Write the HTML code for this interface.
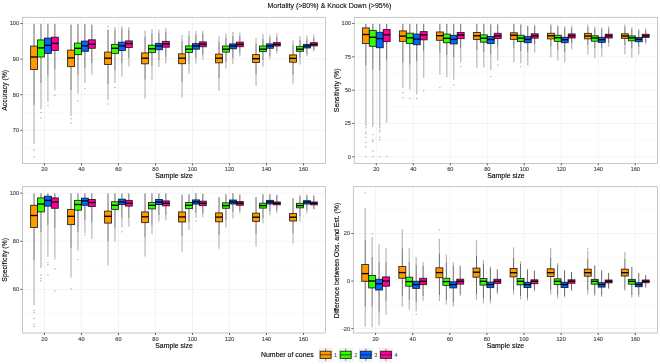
<!DOCTYPE html>
<html><head><meta charset="utf-8"><style>
*{margin:0;padding:0}
html,body{width:660px;height:364px;background:#fff;overflow:hidden}
svg{display:block;filter:blur(0.45px)}
text{font-family:"Liberation Sans",sans-serif;}
.gM{stroke:#ebebeb;stroke-width:0.6}
.gm{stroke:#f5f5f5;stroke-width:0.5}
.pb{fill:none;stroke:#b0b0b0;stroke-width:0.7}
.tk{stroke:#333;stroke-width:0.8}
.tl{font-size:5.6px;fill:#4d4d4d;stroke:#4d4d4d;stroke-width:0.15px}
.at{font-size:6.9px;fill:#000;stroke:#000;stroke-width:0.12px}
.tt{font-size:7.0px;fill:#000;stroke:#000;stroke-width:0.08px}
.lt{font-size:6.95px;fill:#000;stroke:#000;stroke-width:0.12px}
.ll{font-size:5.4px;fill:#404040;stroke:#404040;stroke-width:0.05px}
.ob{stroke:#b8b8b8;stroke-width:1.2}
.od{fill:#a8a8a8}
.wk{stroke:#686868;stroke-width:1.0}
.bx{stroke:#000;stroke-opacity:0.78;stroke-width:0.95}
.md{stroke:#000;stroke-width:1.35}
.kb{fill:#f7f7f7;stroke:#e0e0e0;stroke-width:0.5}
.kw{stroke:#333;stroke-width:0.6}
</style></head>
<body><svg width="660" height="364" viewBox="0 0 660 364">
<rect width="660" height="364" fill="#fff"/>
<line x1="22.4" x2="325.6" y1="41.3" y2="41.3" class="gm"/>
<line x1="22.4" x2="325.6" y1="76.9" y2="76.9" class="gm"/>
<line x1="22.4" x2="325.6" y1="112.5" y2="112.5" class="gm"/>
<line x1="22.4" x2="325.6" y1="148.1" y2="148.1" class="gm"/>
<line x1="22.4" x2="325.6" y1="23.5" y2="23.5" class="gM"/>
<line x1="22.4" x2="325.6" y1="59.1" y2="59.1" class="gM"/>
<line x1="22.4" x2="325.6" y1="94.7" y2="94.7" class="gM"/>
<line x1="22.4" x2="325.6" y1="130.3" y2="130.3" class="gM"/>
<line x1="44.45" x2="44.45" y1="17.3" y2="163.4" class="gM"/>
<line x1="81.45" x2="81.45" y1="17.3" y2="163.4" class="gM"/>
<line x1="118.45" x2="118.45" y1="17.3" y2="163.4" class="gM"/>
<line x1="155.45" x2="155.45" y1="17.3" y2="163.4" class="gM"/>
<line x1="192.45" x2="192.45" y1="17.3" y2="163.4" class="gM"/>
<line x1="229.45" x2="229.45" y1="17.3" y2="163.4" class="gM"/>
<line x1="266.45" x2="266.45" y1="17.3" y2="163.4" class="gM"/>
<line x1="303.45" x2="303.45" y1="17.3" y2="163.4" class="gM"/>
<line x1="34.04" x2="34.04" y1="105" y2="143.7" class="ob"/>
<circle cx="34.04" cy="150" r="0.7" class="od"/>
<circle cx="34.04" cy="156.8" r="0.7" class="od"/>
<line x1="34.04" x2="34.04" y1="23.8" y2="46.1" class="wk"/>
<line x1="34.04" x2="34.04" y1="69.5" y2="105" class="wk"/>
<line x1="40.98" x2="40.98" y1="83" y2="109" class="ob"/>
<circle cx="40.98" cy="112.5" r="0.7" class="od"/>
<circle cx="40.98" cy="117.9" r="0.7" class="od"/>
<line x1="40.98" x2="40.98" y1="23.8" y2="39.9" class="wk"/>
<line x1="40.98" x2="40.98" y1="57" y2="83" class="wk"/>
<line x1="47.92" x2="47.92" y1="75.5" y2="102" class="ob"/>
<circle cx="47.92" cy="105.4" r="0.7" class="od"/>
<line x1="47.92" x2="47.92" y1="23.8" y2="38.1" class="wk"/>
<line x1="47.92" x2="47.92" y1="53.4" y2="75.5" class="wk"/>
<line x1="54.86" x2="54.86" y1="69" y2="90.3" class="ob"/>
<circle cx="54.86" cy="95.2" r="0.7" class="od"/>
<line x1="54.86" x2="54.86" y1="23.8" y2="37.2" class="wk"/>
<line x1="54.86" x2="54.86" y1="50.4" y2="69" class="wk"/>
<line x1="71.04" x2="71.04" y1="90" y2="116" class="ob"/>
<circle cx="71.04" cy="118.8" r="0.7" class="od"/>
<circle cx="71.04" cy="123.2" r="0.7" class="od"/>
<line x1="71.04" x2="71.04" y1="24.6" y2="50.1" class="wk"/>
<line x1="71.04" x2="71.04" y1="66.6" y2="90" class="wk"/>
<line x1="77.98" x2="77.98" y1="75" y2="93.6" class="ob"/>
<circle cx="77.98" cy="101" r="0.7" class="od"/>
<line x1="77.98" x2="77.98" y1="24.1" y2="43.1" class="wk"/>
<line x1="77.98" x2="77.98" y1="54.6" y2="75" class="wk"/>
<line x1="84.92" x2="84.92" y1="68" y2="83" class="ob"/>
<circle cx="84.92" cy="88.6" r="0.7" class="od"/>
<line x1="84.92" x2="84.92" y1="24.1" y2="41.1" class="wk"/>
<line x1="84.92" x2="84.92" y1="51.3" y2="68" class="wk"/>
<line x1="91.86" x2="91.86" y1="63" y2="74.7" class="ob"/>
<line x1="91.86" x2="91.86" y1="24.7" y2="39.8" class="wk"/>
<line x1="91.86" x2="91.86" y1="48.3" y2="63" class="wk"/>
<line x1="108.04" x2="108.04" y1="84.5" y2="100" class="ob"/>
<circle cx="108.04" cy="103.9" r="0.7" class="od"/>
<circle cx="108.04" cy="26.5" r="0.7" class="od"/>
<line x1="108.04" x2="108.04" y1="29.5" y2="52.1" class="wk"/>
<line x1="108.04" x2="108.04" y1="64.5" y2="84.5" class="wk"/>
<line x1="114.98" x2="114.98" y1="27.1" y2="30" class="ob"/>
<line x1="114.98" x2="114.98" y1="70" y2="83" class="ob"/>
<circle cx="114.98" cy="87.5" r="0.7" class="od"/>
<line x1="114.98" x2="114.98" y1="30" y2="44.4" class="wk"/>
<line x1="114.98" x2="114.98" y1="53.4" y2="70" class="wk"/>
<line x1="121.92" x2="121.92" y1="25.9" y2="29" class="ob"/>
<line x1="121.92" x2="121.92" y1="63" y2="76.4" class="ob"/>
<line x1="121.92" x2="121.92" y1="29" y2="42.2" class="wk"/>
<line x1="121.92" x2="121.92" y1="50.5" y2="63" class="wk"/>
<line x1="128.86" x2="128.86" y1="27.1" y2="30" class="ob"/>
<line x1="128.86" x2="128.86" y1="58" y2="66.5" class="ob"/>
<line x1="128.86" x2="128.86" y1="30" y2="40.9" class="wk"/>
<line x1="128.86" x2="128.86" y1="47.5" y2="58" class="wk"/>
<line x1="145.04" x2="145.04" y1="30.6" y2="36.7" class="ob"/>
<line x1="145.04" x2="145.04" y1="79.6" y2="98.5" class="ob"/>
<line x1="145.04" x2="145.04" y1="36.7" y2="52.9" class="wk"/>
<line x1="145.04" x2="145.04" y1="63.8" y2="79.6" class="wk"/>
<line x1="151.98" x2="151.98" y1="29.1" y2="33.6" class="ob"/>
<line x1="151.98" x2="151.98" y1="66" y2="80.5" class="ob"/>
<line x1="151.98" x2="151.98" y1="33.6" y2="45.2" class="wk"/>
<line x1="151.98" x2="151.98" y1="52.6" y2="66" class="wk"/>
<line x1="158.92" x2="158.92" y1="29.4" y2="33" class="ob"/>
<line x1="158.92" x2="158.92" y1="60" y2="67" class="ob"/>
<line x1="158.92" x2="158.92" y1="33" y2="43.4" class="wk"/>
<line x1="158.92" x2="158.92" y1="49.7" y2="60" class="wk"/>
<line x1="165.86" x2="165.86" y1="28.3" y2="32" class="ob"/>
<line x1="165.86" x2="165.86" y1="57" y2="63.5" class="ob"/>
<line x1="165.86" x2="165.86" y1="32" y2="41.4" class="wk"/>
<line x1="165.86" x2="165.86" y1="47.2" y2="57" class="wk"/>
<line x1="182.04" x2="182.04" y1="35" y2="41" class="ob"/>
<line x1="182.04" x2="182.04" y1="82" y2="97.6" class="ob"/>
<line x1="182.04" x2="182.04" y1="41" y2="53.8" class="wk"/>
<line x1="182.04" x2="182.04" y1="63.7" y2="82" class="wk"/>
<line x1="188.98" x2="188.98" y1="31" y2="36" class="ob"/>
<line x1="188.98" x2="188.98" y1="64" y2="73.7" class="ob"/>
<line x1="188.98" x2="188.98" y1="36" y2="45.9" class="wk"/>
<line x1="188.98" x2="188.98" y1="52.5" y2="64" class="wk"/>
<line x1="195.92" x2="195.92" y1="31" y2="35" class="ob"/>
<line x1="195.92" x2="195.92" y1="58" y2="63.5" class="ob"/>
<line x1="195.92" x2="195.92" y1="35" y2="43.6" class="wk"/>
<line x1="195.92" x2="195.92" y1="49.2" y2="58" class="wk"/>
<line x1="202.86" x2="202.86" y1="30.7" y2="34" class="ob"/>
<line x1="202.86" x2="202.86" y1="55" y2="59.5" class="ob"/>
<line x1="202.86" x2="202.86" y1="34" y2="41.9" class="wk"/>
<line x1="202.86" x2="202.86" y1="46.7" y2="55" class="wk"/>
<line x1="219.04" x2="219.04" y1="36.2" y2="42" class="ob"/>
<line x1="219.04" x2="219.04" y1="78" y2="91.1" class="ob"/>
<line x1="219.04" x2="219.04" y1="42" y2="54.1" class="wk"/>
<line x1="219.04" x2="219.04" y1="62.8" y2="78" class="wk"/>
<line x1="225.98" x2="225.98" y1="33.2" y2="38" class="ob"/>
<line x1="225.98" x2="225.98" y1="62" y2="68.4" class="ob"/>
<line x1="225.98" x2="225.98" y1="38" y2="46" class="wk"/>
<line x1="225.98" x2="225.98" y1="52.1" y2="62" class="wk"/>
<line x1="232.92" x2="232.92" y1="31.9" y2="36" class="ob"/>
<line x1="232.92" x2="232.92" y1="58" y2="64.3" class="ob"/>
<line x1="232.92" x2="232.92" y1="36" y2="43.9" class="wk"/>
<line x1="232.92" x2="232.92" y1="48.8" y2="58" class="wk"/>
<line x1="239.86" x2="239.86" y1="32.4" y2="36" class="ob"/>
<line x1="239.86" x2="239.86" y1="53" y2="56.6" class="ob"/>
<line x1="239.86" x2="239.86" y1="36" y2="42.2" class="wk"/>
<line x1="239.86" x2="239.86" y1="46.7" y2="53" class="wk"/>
<line x1="256.04" x2="256.04" y1="38" y2="43.5" class="ob"/>
<line x1="256.04" x2="256.04" y1="74.7" y2="85.9" class="ob"/>
<line x1="256.04" x2="256.04" y1="43.5" y2="54.6" class="wk"/>
<line x1="256.04" x2="256.04" y1="62.5" y2="74.7" class="wk"/>
<line x1="262.98" x2="262.98" y1="34" y2="39" class="ob"/>
<line x1="262.98" x2="262.98" y1="60" y2="66.7" class="ob"/>
<line x1="262.98" x2="262.98" y1="39" y2="46" class="wk"/>
<line x1="262.98" x2="262.98" y1="51.6" y2="60" class="wk"/>
<line x1="269.92" x2="269.92" y1="34.8" y2="38" class="ob"/>
<line x1="269.92" x2="269.92" y1="56" y2="59.2" class="ob"/>
<line x1="269.92" x2="269.92" y1="38" y2="43.9" class="wk"/>
<line x1="269.92" x2="269.92" y1="48.3" y2="56" class="wk"/>
<line x1="276.86" x2="276.86" y1="33.2" y2="37" class="ob"/>
<line x1="276.86" x2="276.86" y1="51" y2="53.6" class="ob"/>
<line x1="276.86" x2="276.86" y1="37" y2="42.6" class="wk"/>
<line x1="276.86" x2="276.86" y1="46" y2="51" class="wk"/>
<line x1="293.04" x2="293.04" y1="40.5" y2="45" class="ob"/>
<line x1="293.04" x2="293.04" y1="74.7" y2="83.8" class="ob"/>
<line x1="293.04" x2="293.04" y1="45" y2="54.9" class="wk"/>
<line x1="293.04" x2="293.04" y1="62.2" y2="74.7" class="wk"/>
<line x1="299.98" x2="299.98" y1="36.1" y2="40" class="ob"/>
<line x1="299.98" x2="299.98" y1="58" y2="64.5" class="ob"/>
<line x1="299.98" x2="299.98" y1="40" y2="46.4" class="wk"/>
<line x1="299.98" x2="299.98" y1="51.3" y2="58" class="wk"/>
<line x1="306.92" x2="306.92" y1="35.6" y2="39" class="ob"/>
<line x1="306.92" x2="306.92" y1="54" y2="56.4" class="ob"/>
<line x1="306.92" x2="306.92" y1="39" y2="44.4" class="wk"/>
<line x1="306.92" x2="306.92" y1="48" y2="54" class="wk"/>
<line x1="313.86" x2="313.86" y1="34.5" y2="38" class="ob"/>
<line x1="313.86" x2="313.86" y1="50" y2="51.6" class="ob"/>
<line x1="313.86" x2="313.86" y1="38" y2="42.7" class="wk"/>
<line x1="313.86" x2="313.86" y1="45.9" y2="50" class="wk"/>
<rect x="30.57" y="46.1" width="6.94" height="23.4" fill="#FF9A00" class="bx"/>
<line x1="30.57" x2="37.51" y1="57" y2="57" class="md"/>
<rect x="37.51" y="39.9" width="6.94" height="17.1" fill="#33FF00" class="bx"/>
<line x1="37.51" x2="44.45" y1="47.9" y2="47.9" class="md"/>
<rect x="44.45" y="38.1" width="6.94" height="15.3" fill="#0066FF" class="bx"/>
<line x1="44.45" x2="51.39" y1="45.3" y2="45.3" class="md"/>
<rect x="51.39" y="37.2" width="6.94" height="13.2" fill="#FF0099" class="bx"/>
<line x1="51.39" x2="58.33" y1="43.4" y2="43.4" class="md"/>
<rect x="67.57" y="50.1" width="6.94" height="16.5" fill="#FF9A00" class="bx"/>
<line x1="67.57" x2="74.51" y1="57.9" y2="57.9" class="md"/>
<rect x="74.51" y="43.1" width="6.94" height="11.5" fill="#33FF00" class="bx"/>
<line x1="74.51" x2="81.45" y1="48.3" y2="48.3" class="md"/>
<rect x="81.45" y="41.1" width="6.94" height="10.2" fill="#0066FF" class="bx"/>
<line x1="81.45" x2="88.39" y1="45.9" y2="45.9" class="md"/>
<rect x="88.39" y="39.8" width="6.94" height="8.5" fill="#FF0099" class="bx"/>
<line x1="88.39" x2="95.33" y1="44.2" y2="44.2" class="md"/>
<rect x="104.57" y="52.1" width="6.94" height="12.4" fill="#FF9A00" class="bx"/>
<line x1="104.57" x2="111.51" y1="58.2" y2="58.2" class="md"/>
<rect x="111.51" y="44.4" width="6.94" height="9" fill="#33FF00" class="bx"/>
<line x1="111.51" x2="118.45" y1="48.3" y2="48.3" class="md"/>
<rect x="118.45" y="42.2" width="6.94" height="8.3" fill="#0066FF" class="bx"/>
<line x1="118.45" x2="125.39" y1="45.9" y2="45.9" class="md"/>
<rect x="125.39" y="40.9" width="6.94" height="6.6" fill="#FF0099" class="bx"/>
<line x1="125.39" x2="132.33" y1="43.6" y2="43.6" class="md"/>
<rect x="141.57" y="52.9" width="6.94" height="10.9" fill="#FF9A00" class="bx"/>
<line x1="141.57" x2="148.51" y1="58.2" y2="58.2" class="md"/>
<rect x="148.51" y="45.2" width="6.94" height="7.4" fill="#33FF00" class="bx"/>
<line x1="148.51" x2="155.45" y1="48.8" y2="48.8" class="md"/>
<rect x="155.45" y="43.4" width="6.94" height="6.3" fill="#0066FF" class="bx"/>
<line x1="155.45" x2="162.39" y1="45.9" y2="45.9" class="md"/>
<rect x="162.39" y="41.4" width="6.94" height="5.8" fill="#FF0099" class="bx"/>
<line x1="162.39" x2="169.33" y1="43.9" y2="43.9" class="md"/>
<rect x="178.57" y="53.8" width="6.94" height="9.9" fill="#FF9A00" class="bx"/>
<line x1="178.57" x2="185.51" y1="58.2" y2="58.2" class="md"/>
<rect x="185.51" y="45.9" width="6.94" height="6.6" fill="#33FF00" class="bx"/>
<line x1="185.51" x2="192.45" y1="49.2" y2="49.2" class="md"/>
<rect x="192.45" y="43.6" width="6.94" height="5.6" fill="#0066FF" class="bx"/>
<line x1="192.45" x2="199.39" y1="45.9" y2="45.9" class="md"/>
<rect x="199.39" y="41.9" width="6.94" height="4.8" fill="#FF0099" class="bx"/>
<line x1="199.39" x2="206.33" y1="44.2" y2="44.2" class="md"/>
<rect x="215.57" y="54.1" width="6.94" height="8.7" fill="#FF9A00" class="bx"/>
<line x1="215.57" x2="222.51" y1="58.2" y2="58.2" class="md"/>
<rect x="222.51" y="46" width="6.94" height="6.1" fill="#33FF00" class="bx"/>
<line x1="222.51" x2="229.45" y1="49.2" y2="49.2" class="md"/>
<rect x="229.45" y="43.9" width="6.94" height="4.9" fill="#0066FF" class="bx"/>
<line x1="229.45" x2="236.39" y1="46" y2="46" class="md"/>
<rect x="236.39" y="42.2" width="6.94" height="4.5" fill="#FF0099" class="bx"/>
<line x1="236.39" x2="243.33" y1="44.4" y2="44.4" class="md"/>
<rect x="252.57" y="54.6" width="6.94" height="7.9" fill="#FF9A00" class="bx"/>
<line x1="252.57" x2="259.51" y1="58.7" y2="58.7" class="md"/>
<rect x="259.51" y="46" width="6.94" height="5.6" fill="#33FF00" class="bx"/>
<line x1="259.51" x2="266.45" y1="49.2" y2="49.2" class="md"/>
<rect x="266.45" y="43.9" width="6.94" height="4.4" fill="#0066FF" class="bx"/>
<line x1="266.45" x2="273.39" y1="46" y2="46" class="md"/>
<rect x="273.39" y="42.6" width="6.94" height="3.4" fill="#FF0099" class="bx"/>
<line x1="273.39" x2="280.33" y1="44.4" y2="44.4" class="md"/>
<rect x="289.57" y="54.9" width="6.94" height="7.3" fill="#FF9A00" class="bx"/>
<line x1="289.57" x2="296.51" y1="58.4" y2="58.4" class="md"/>
<rect x="296.51" y="46.4" width="6.94" height="4.9" fill="#33FF00" class="bx"/>
<line x1="296.51" x2="303.45" y1="49.2" y2="49.2" class="md"/>
<rect x="303.45" y="44.4" width="6.94" height="3.6" fill="#0066FF" class="bx"/>
<line x1="303.45" x2="310.39" y1="46" y2="46" class="md"/>
<rect x="310.39" y="42.7" width="6.94" height="3.2" fill="#FF0099" class="bx"/>
<line x1="310.39" x2="317.33" y1="44.4" y2="44.4" class="md"/>
<rect x="22.4" y="17.3" width="303.2" height="146.1" class="pb"/>
<line x1="20.4" x2="22.4" y1="23.5" y2="23.5" class="tk"/>
<text x="19.1" y="25.45" class="tl" text-anchor="end">100</text>
<line x1="20.4" x2="22.4" y1="59.1" y2="59.1" class="tk"/>
<text x="19.1" y="61.05" class="tl" text-anchor="end">90</text>
<line x1="20.4" x2="22.4" y1="94.7" y2="94.7" class="tk"/>
<text x="19.1" y="96.65" class="tl" text-anchor="end">80</text>
<line x1="20.4" x2="22.4" y1="130.3" y2="130.3" class="tk"/>
<text x="19.1" y="132.25" class="tl" text-anchor="end">70</text>
<line x1="44.45" x2="44.45" y1="163.4" y2="165.4" class="tk"/>
<text x="44.45" y="171.2" class="tl" text-anchor="middle">20</text>
<line x1="81.45" x2="81.45" y1="163.4" y2="165.4" class="tk"/>
<text x="81.45" y="171.2" class="tl" text-anchor="middle">40</text>
<line x1="118.45" x2="118.45" y1="163.4" y2="165.4" class="tk"/>
<text x="118.45" y="171.2" class="tl" text-anchor="middle">60</text>
<line x1="155.45" x2="155.45" y1="163.4" y2="165.4" class="tk"/>
<text x="155.45" y="171.2" class="tl" text-anchor="middle">80</text>
<line x1="192.45" x2="192.45" y1="163.4" y2="165.4" class="tk"/>
<text x="192.45" y="171.2" class="tl" text-anchor="middle">100</text>
<line x1="229.45" x2="229.45" y1="163.4" y2="165.4" class="tk"/>
<text x="229.45" y="171.2" class="tl" text-anchor="middle">120</text>
<line x1="266.45" x2="266.45" y1="163.4" y2="165.4" class="tk"/>
<text x="266.45" y="171.2" class="tl" text-anchor="middle">140</text>
<line x1="303.45" x2="303.45" y1="163.4" y2="165.4" class="tk"/>
<text x="303.45" y="171.2" class="tl" text-anchor="middle">160</text>
<text x="174" y="178" class="at" text-anchor="middle">Sample size</text>
<text transform="translate(6.7 90.35) rotate(-90)" class="at" text-anchor="middle">Accuracy (%)</text>
<line x1="354.2" x2="657.6" y1="40.2" y2="40.2" class="gm"/>
<line x1="354.2" x2="657.6" y1="73.5" y2="73.5" class="gm"/>
<line x1="354.2" x2="657.6" y1="106.8" y2="106.8" class="gm"/>
<line x1="354.2" x2="657.6" y1="140.1" y2="140.1" class="gm"/>
<line x1="354.2" x2="657.6" y1="23.5" y2="23.5" class="gM"/>
<line x1="354.2" x2="657.6" y1="56.85" y2="56.85" class="gM"/>
<line x1="354.2" x2="657.6" y1="90.2" y2="90.2" class="gM"/>
<line x1="354.2" x2="657.6" y1="123.45" y2="123.45" class="gM"/>
<line x1="354.2" x2="657.6" y1="156.75" y2="156.75" class="gM"/>
<line x1="376.3" x2="376.3" y1="17.3" y2="163.4" class="gM"/>
<line x1="413.3" x2="413.3" y1="17.3" y2="163.4" class="gM"/>
<line x1="450.3" x2="450.3" y1="17.3" y2="163.4" class="gM"/>
<line x1="487.3" x2="487.3" y1="17.3" y2="163.4" class="gM"/>
<line x1="524.3" x2="524.3" y1="17.3" y2="163.4" class="gM"/>
<line x1="561.3" x2="561.3" y1="17.3" y2="163.4" class="gM"/>
<line x1="598.3" x2="598.3" y1="17.3" y2="163.4" class="gM"/>
<line x1="635.3" x2="635.3" y1="17.3" y2="163.4" class="gM"/>
<line x1="365.89" x2="365.89" y1="65.5" y2="126" class="ob"/>
<circle cx="365.89" cy="127.7" r="0.7" class="od"/>
<circle cx="365.89" cy="132" r="0.7" class="od"/>
<circle cx="365.89" cy="133.7" r="0.7" class="od"/>
<circle cx="365.89" cy="137.2" r="0.7" class="od"/>
<circle cx="365.89" cy="142.4" r="0.7" class="od"/>
<circle cx="365.89" cy="146.7" r="0.7" class="od"/>
<circle cx="365.89" cy="156.6" r="0.7" class="od"/>
<line x1="365.89" x2="365.89" y1="23.8" y2="27.9" class="wk"/>
<line x1="365.89" x2="365.89" y1="43.5" y2="65.5" class="wk"/>
<line x1="372.83" x2="372.83" y1="69.7" y2="126.8" class="ob"/>
<circle cx="372.83" cy="134.6" r="0.7" class="od"/>
<circle cx="372.83" cy="139.8" r="0.7" class="od"/>
<circle cx="372.83" cy="141.5" r="0.7" class="od"/>
<circle cx="372.83" cy="151" r="0.7" class="od"/>
<circle cx="372.83" cy="156.6" r="0.7" class="od"/>
<line x1="372.83" x2="372.83" y1="23.8" y2="30.4" class="wk"/>
<line x1="372.83" x2="372.83" y1="46.3" y2="69.7" class="wk"/>
<line x1="379.77" x2="379.77" y1="70.5" y2="128.5" class="ob"/>
<circle cx="379.77" cy="130.3" r="0.7" class="od"/>
<circle cx="379.77" cy="132" r="0.7" class="od"/>
<circle cx="379.77" cy="137.2" r="0.7" class="od"/>
<circle cx="379.77" cy="139.8" r="0.7" class="od"/>
<circle cx="379.77" cy="156.6" r="0.7" class="od"/>
<line x1="379.77" x2="379.77" y1="23.8" y2="32.3" class="wk"/>
<line x1="379.77" x2="379.77" y1="47.7" y2="70.5" class="wk"/>
<line x1="386.71" x2="386.71" y1="59.8" y2="122.5" class="ob"/>
<circle cx="386.71" cy="156.6" r="0.7" class="od"/>
<line x1="386.71" x2="386.71" y1="23.8" y2="29.5" class="wk"/>
<line x1="386.71" x2="386.71" y1="41.6" y2="59.8" class="wk"/>
<line x1="402.89" x2="402.89" y1="63" y2="87.8" class="ob"/>
<circle cx="402.89" cy="92.7" r="0.7" class="od"/>
<circle cx="402.89" cy="97.8" r="0.7" class="od"/>
<line x1="402.89" x2="402.89" y1="23.8" y2="30.9" class="wk"/>
<line x1="402.89" x2="402.89" y1="41.4" y2="63" class="wk"/>
<line x1="409.83" x2="409.83" y1="64.7" y2="89.4" class="ob"/>
<circle cx="409.83" cy="98.5" r="0.7" class="od"/>
<line x1="409.83" x2="409.83" y1="23.8" y2="33.2" class="wk"/>
<line x1="409.83" x2="409.83" y1="43.5" y2="64.7" class="wk"/>
<line x1="416.77" x2="416.77" y1="61.4" y2="94.4" class="ob"/>
<circle cx="416.77" cy="98.5" r="0.7" class="od"/>
<line x1="416.77" x2="416.77" y1="23.8" y2="34.1" class="wk"/>
<line x1="416.77" x2="416.77" y1="44.7" y2="61.4" class="wk"/>
<line x1="423.71" x2="423.71" y1="51.5" y2="77.9" class="ob"/>
<circle cx="423.71" cy="91" r="0.7" class="od"/>
<line x1="423.71" x2="423.71" y1="23.8" y2="31.6" class="wk"/>
<line x1="423.71" x2="423.71" y1="39.8" y2="51.5" class="wk"/>
<line x1="439.89" x2="439.89" y1="52.6" y2="74.8" class="ob"/>
<circle cx="439.89" cy="87.7" r="0.7" class="od"/>
<line x1="439.89" x2="439.89" y1="23.8" y2="32" class="wk"/>
<line x1="439.89" x2="439.89" y1="40.3" y2="52.6" class="wk"/>
<line x1="446.83" x2="446.83" y1="55" y2="77.3" class="ob"/>
<line x1="446.83" x2="446.83" y1="23.8" y2="34.1" class="wk"/>
<line x1="446.83" x2="446.83" y1="42.7" y2="55" class="wk"/>
<line x1="453.77" x2="453.77" y1="57" y2="79.8" class="ob"/>
<circle cx="453.77" cy="84.7" r="0.7" class="od"/>
<line x1="453.77" x2="453.77" y1="23.8" y2="35.3" class="wk"/>
<line x1="453.77" x2="453.77" y1="43.9" y2="57" class="wk"/>
<line x1="460.71" x2="460.71" y1="48" y2="62.5" class="ob"/>
<circle cx="460.71" cy="66.6" r="0.7" class="od"/>
<line x1="460.71" x2="460.71" y1="23.8" y2="32.5" class="wk"/>
<line x1="460.71" x2="460.71" y1="38.6" y2="48" class="wk"/>
<line x1="476.89" x2="476.89" y1="50" y2="68.2" class="ob"/>
<line x1="476.89" x2="476.89" y1="23.8" y2="32.5" class="wk"/>
<line x1="476.89" x2="476.89" y1="39.4" y2="50" class="wk"/>
<line x1="483.83" x2="483.83" y1="52" y2="67.4" class="ob"/>
<line x1="483.83" x2="483.83" y1="23.8" y2="34.9" class="wk"/>
<line x1="483.83" x2="483.83" y1="42.2" y2="52" class="wk"/>
<line x1="490.77" x2="490.77" y1="23.8" y2="24.5" class="ob"/>
<line x1="490.77" x2="490.77" y1="54" y2="69.9" class="ob"/>
<circle cx="490.77" cy="76.5" r="0.7" class="od"/>
<line x1="490.77" x2="490.77" y1="24.5" y2="36.5" class="wk"/>
<line x1="490.77" x2="490.77" y1="43.5" y2="54" class="wk"/>
<line x1="497.71" x2="497.71" y1="23.8" y2="24.5" class="ob"/>
<line x1="497.71" x2="497.71" y1="46" y2="60.8" class="ob"/>
<circle cx="497.71" cy="65" r="0.7" class="od"/>
<line x1="497.71" x2="497.71" y1="24.5" y2="33.3" class="wk"/>
<line x1="497.71" x2="497.71" y1="38.5" y2="46" class="wk"/>
<line x1="513.89" x2="513.89" y1="48" y2="62.5" class="ob"/>
<line x1="513.89" x2="513.89" y1="23.8" y2="32.8" class="wk"/>
<line x1="513.89" x2="513.89" y1="39.4" y2="48" class="wk"/>
<line x1="520.83" x2="520.83" y1="23.8" y2="25" class="ob"/>
<line x1="520.83" x2="520.83" y1="51" y2="63.3" class="ob"/>
<circle cx="520.83" cy="66.6" r="0.7" class="od"/>
<line x1="520.83" x2="520.83" y1="25" y2="35.3" class="wk"/>
<line x1="520.83" x2="520.83" y1="41.6" y2="51" class="wk"/>
<line x1="527.77" x2="527.77" y1="25.4" y2="26" class="ob"/>
<line x1="527.77" x2="527.77" y1="52" y2="65.4" class="ob"/>
<line x1="527.77" x2="527.77" y1="26" y2="36.6" class="wk"/>
<line x1="527.77" x2="527.77" y1="42.7" y2="52" class="wk"/>
<line x1="534.71" x2="534.71" y1="24.6" y2="26" class="ob"/>
<line x1="534.71" x2="534.71" y1="44" y2="52.6" class="ob"/>
<line x1="534.71" x2="534.71" y1="26" y2="33.8" class="wk"/>
<line x1="534.71" x2="534.71" y1="38.2" y2="44" class="wk"/>
<line x1="550.89" x2="550.89" y1="24" y2="26" class="ob"/>
<line x1="550.89" x2="550.89" y1="46" y2="57.5" class="ob"/>
<line x1="550.89" x2="550.89" y1="26" y2="33.3" class="wk"/>
<line x1="550.89" x2="550.89" y1="38.9" y2="46" class="wk"/>
<line x1="557.83" x2="557.83" y1="25" y2="27" class="ob"/>
<line x1="557.83" x2="557.83" y1="50" y2="60.5" class="ob"/>
<line x1="557.83" x2="557.83" y1="27" y2="35.3" class="wk"/>
<line x1="557.83" x2="557.83" y1="41.4" y2="50" class="wk"/>
<line x1="564.77" x2="564.77" y1="26" y2="28" class="ob"/>
<line x1="564.77" x2="564.77" y1="52" y2="62.5" class="ob"/>
<line x1="564.77" x2="564.77" y1="28" y2="37.3" class="wk"/>
<line x1="564.77" x2="564.77" y1="42.7" y2="52" class="wk"/>
<line x1="571.71" x2="571.71" y1="25.5" y2="28" class="ob"/>
<line x1="571.71" x2="571.71" y1="43" y2="49.6" class="ob"/>
<line x1="571.71" x2="571.71" y1="28" y2="33.9" class="wk"/>
<line x1="571.71" x2="571.71" y1="38" y2="43" class="wk"/>
<line x1="587.89" x2="587.89" y1="24.6" y2="27" class="ob"/>
<line x1="587.89" x2="587.89" y1="45" y2="54.6" class="ob"/>
<line x1="587.89" x2="587.89" y1="27" y2="33.4" class="wk"/>
<line x1="587.89" x2="587.89" y1="38.8" y2="45" class="wk"/>
<line x1="594.83" x2="594.83" y1="26.6" y2="28.5" class="ob"/>
<line x1="594.83" x2="594.83" y1="48" y2="57.9" class="ob"/>
<line x1="594.83" x2="594.83" y1="28.5" y2="35.8" class="wk"/>
<line x1="594.83" x2="594.83" y1="41.2" y2="48" class="wk"/>
<line x1="601.77" x2="601.77" y1="27" y2="29" class="ob"/>
<line x1="601.77" x2="601.77" y1="48" y2="56.7" class="ob"/>
<line x1="601.77" x2="601.77" y1="29" y2="37.3" class="wk"/>
<line x1="601.77" x2="601.77" y1="42.4" y2="48" class="wk"/>
<line x1="608.71" x2="608.71" y1="26.2" y2="28.5" class="ob"/>
<line x1="608.71" x2="608.71" y1="43" y2="46.8" class="ob"/>
<line x1="608.71" x2="608.71" y1="28.5" y2="34.2" class="wk"/>
<line x1="608.71" x2="608.71" y1="38" y2="43" class="wk"/>
<line x1="624.89" x2="624.89" y1="24.6" y2="27" class="ob"/>
<line x1="624.89" x2="624.89" y1="45" y2="54.6" class="ob"/>
<line x1="624.89" x2="624.89" y1="27" y2="33.8" class="wk"/>
<line x1="624.89" x2="624.89" y1="38.4" y2="45" class="wk"/>
<line x1="631.83" x2="631.83" y1="27" y2="29" class="ob"/>
<line x1="631.83" x2="631.83" y1="48" y2="57.5" class="ob"/>
<line x1="631.83" x2="631.83" y1="29" y2="35.9" class="wk"/>
<line x1="631.83" x2="631.83" y1="40.8" y2="48" class="wk"/>
<line x1="638.77" x2="638.77" y1="28.7" y2="30.5" class="ob"/>
<line x1="638.77" x2="638.77" y1="47" y2="54.6" class="ob"/>
<line x1="638.77" x2="638.77" y1="30.5" y2="37.5" class="wk"/>
<line x1="638.77" x2="638.77" y1="41.7" y2="47" class="wk"/>
<line x1="645.71" x2="645.71" y1="28.2" y2="30" class="ob"/>
<line x1="645.71" x2="645.71" y1="42" y2="44.4" class="ob"/>
<line x1="645.71" x2="645.71" y1="30" y2="34.3" class="wk"/>
<line x1="645.71" x2="645.71" y1="37.4" y2="42" class="wk"/>
<rect x="362.42" y="27.9" width="6.94" height="15.6" fill="#FF9A00" class="bx"/>
<line x1="362.42" x2="369.36" y1="34.5" y2="34.5" class="md"/>
<rect x="369.36" y="30.4" width="6.94" height="15.9" fill="#33FF00" class="bx"/>
<line x1="369.36" x2="376.3" y1="37.3" y2="37.3" class="md"/>
<rect x="376.3" y="32.3" width="6.94" height="15.4" fill="#0066FF" class="bx"/>
<line x1="376.3" x2="383.24" y1="38.6" y2="38.6" class="md"/>
<rect x="383.24" y="29.5" width="6.94" height="12.1" fill="#FF0099" class="bx"/>
<line x1="383.24" x2="390.18" y1="34.8" y2="34.8" class="md"/>
<rect x="399.42" y="30.9" width="6.94" height="10.5" fill="#FF9A00" class="bx"/>
<line x1="399.42" x2="406.36" y1="36.1" y2="36.1" class="md"/>
<rect x="406.36" y="33.2" width="6.94" height="10.3" fill="#33FF00" class="bx"/>
<line x1="406.36" x2="413.3" y1="37.8" y2="37.8" class="md"/>
<rect x="413.3" y="34.1" width="6.94" height="10.6" fill="#0066FF" class="bx"/>
<line x1="413.3" x2="420.24" y1="39.1" y2="39.1" class="md"/>
<rect x="420.24" y="31.6" width="6.94" height="8.2" fill="#FF0099" class="bx"/>
<line x1="420.24" x2="427.18" y1="34.9" y2="34.9" class="md"/>
<rect x="436.42" y="32" width="6.94" height="8.3" fill="#FF9A00" class="bx"/>
<line x1="436.42" x2="443.36" y1="35.7" y2="35.7" class="md"/>
<rect x="443.36" y="34.1" width="6.94" height="8.6" fill="#33FF00" class="bx"/>
<line x1="443.36" x2="450.3" y1="38.3" y2="38.3" class="md"/>
<rect x="450.3" y="35.3" width="6.94" height="8.6" fill="#0066FF" class="bx"/>
<line x1="450.3" x2="457.24" y1="39.4" y2="39.4" class="md"/>
<rect x="457.24" y="32.5" width="6.94" height="6.1" fill="#FF0099" class="bx"/>
<line x1="457.24" x2="464.18" y1="35" y2="35" class="md"/>
<rect x="473.42" y="32.5" width="6.94" height="6.9" fill="#FF9A00" class="bx"/>
<line x1="473.42" x2="480.36" y1="35.8" y2="35.8" class="md"/>
<rect x="480.36" y="34.9" width="6.94" height="7.3" fill="#33FF00" class="bx"/>
<line x1="480.36" x2="487.3" y1="38.2" y2="38.2" class="md"/>
<rect x="487.3" y="36.5" width="6.94" height="7" fill="#0066FF" class="bx"/>
<line x1="487.3" x2="494.24" y1="39.5" y2="39.5" class="md"/>
<rect x="494.24" y="33.3" width="6.94" height="5.2" fill="#FF0099" class="bx"/>
<line x1="494.24" x2="501.18" y1="35.9" y2="35.9" class="md"/>
<rect x="510.42" y="32.8" width="6.94" height="6.6" fill="#FF9A00" class="bx"/>
<line x1="510.42" x2="517.36" y1="35.3" y2="35.3" class="md"/>
<rect x="517.36" y="35.3" width="6.94" height="6.3" fill="#33FF00" class="bx"/>
<line x1="517.36" x2="524.3" y1="38.1" y2="38.1" class="md"/>
<rect x="524.3" y="36.6" width="6.94" height="6.1" fill="#0066FF" class="bx"/>
<line x1="524.3" x2="531.24" y1="39.4" y2="39.4" class="md"/>
<rect x="531.24" y="33.8" width="6.94" height="4.4" fill="#FF0099" class="bx"/>
<line x1="531.24" x2="538.18" y1="35.8" y2="35.8" class="md"/>
<rect x="547.42" y="33.3" width="6.94" height="5.6" fill="#FF9A00" class="bx"/>
<line x1="547.42" x2="554.36" y1="35.8" y2="35.8" class="md"/>
<rect x="554.36" y="35.3" width="6.94" height="6.1" fill="#33FF00" class="bx"/>
<line x1="554.36" x2="561.3" y1="37.7" y2="37.7" class="md"/>
<rect x="561.3" y="37.3" width="6.94" height="5.4" fill="#0066FF" class="bx"/>
<line x1="561.3" x2="568.24" y1="39.7" y2="39.7" class="md"/>
<rect x="568.24" y="33.9" width="6.94" height="4.1" fill="#FF0099" class="bx"/>
<line x1="568.24" x2="575.18" y1="35.8" y2="35.8" class="md"/>
<rect x="584.42" y="33.4" width="6.94" height="5.4" fill="#FF9A00" class="bx"/>
<line x1="584.42" x2="591.36" y1="36" y2="36" class="md"/>
<rect x="591.36" y="35.8" width="6.94" height="5.4" fill="#33FF00" class="bx"/>
<line x1="591.36" x2="598.3" y1="38" y2="38" class="md"/>
<rect x="598.3" y="37.3" width="6.94" height="5.1" fill="#0066FF" class="bx"/>
<line x1="598.3" x2="605.24" y1="39.7" y2="39.7" class="md"/>
<rect x="605.24" y="34.2" width="6.94" height="3.8" fill="#FF0099" class="bx"/>
<line x1="605.24" x2="612.18" y1="35.9" y2="35.9" class="md"/>
<rect x="621.42" y="33.8" width="6.94" height="4.6" fill="#FF9A00" class="bx"/>
<line x1="621.42" x2="628.36" y1="36" y2="36" class="md"/>
<rect x="628.36" y="35.9" width="6.94" height="4.9" fill="#33FF00" class="bx"/>
<line x1="628.36" x2="635.3" y1="37.9" y2="37.9" class="md"/>
<rect x="635.3" y="37.5" width="6.94" height="4.2" fill="#0066FF" class="bx"/>
<line x1="635.3" x2="642.24" y1="39.4" y2="39.4" class="md"/>
<rect x="642.24" y="34.3" width="6.94" height="3.1" fill="#FF0099" class="bx"/>
<line x1="642.24" x2="649.18" y1="36" y2="36" class="md"/>
<rect x="354.2" y="17.3" width="303.4" height="146.1" class="pb"/>
<line x1="352.2" x2="354.2" y1="23.5" y2="23.5" class="tk"/>
<text x="350.9" y="25.45" class="tl" text-anchor="end">100</text>
<line x1="352.2" x2="354.2" y1="56.85" y2="56.85" class="tk"/>
<text x="350.9" y="58.8" class="tl" text-anchor="end">75</text>
<line x1="352.2" x2="354.2" y1="90.2" y2="90.2" class="tk"/>
<text x="350.9" y="92.15" class="tl" text-anchor="end">50</text>
<line x1="352.2" x2="354.2" y1="123.45" y2="123.45" class="tk"/>
<text x="350.9" y="125.4" class="tl" text-anchor="end">25</text>
<line x1="352.2" x2="354.2" y1="156.75" y2="156.75" class="tk"/>
<text x="350.9" y="158.7" class="tl" text-anchor="end">0</text>
<line x1="376.3" x2="376.3" y1="163.4" y2="165.4" class="tk"/>
<text x="376.3" y="171.2" class="tl" text-anchor="middle">20</text>
<line x1="413.3" x2="413.3" y1="163.4" y2="165.4" class="tk"/>
<text x="413.3" y="171.2" class="tl" text-anchor="middle">40</text>
<line x1="450.3" x2="450.3" y1="163.4" y2="165.4" class="tk"/>
<text x="450.3" y="171.2" class="tl" text-anchor="middle">60</text>
<line x1="487.3" x2="487.3" y1="163.4" y2="165.4" class="tk"/>
<text x="487.3" y="171.2" class="tl" text-anchor="middle">80</text>
<line x1="524.3" x2="524.3" y1="163.4" y2="165.4" class="tk"/>
<text x="524.3" y="171.2" class="tl" text-anchor="middle">100</text>
<line x1="561.3" x2="561.3" y1="163.4" y2="165.4" class="tk"/>
<text x="561.3" y="171.2" class="tl" text-anchor="middle">120</text>
<line x1="598.3" x2="598.3" y1="163.4" y2="165.4" class="tk"/>
<text x="598.3" y="171.2" class="tl" text-anchor="middle">140</text>
<line x1="635.3" x2="635.3" y1="163.4" y2="165.4" class="tk"/>
<text x="635.3" y="171.2" class="tl" text-anchor="middle">160</text>
<text x="505.9" y="178" class="at" text-anchor="middle">Sample size</text>
<text transform="translate(338.55 90.35) rotate(-90)" class="at" text-anchor="middle">Sensitivity (%)</text>
<line x1="22.4" x2="325.6" y1="217.25" y2="217.25" class="gm"/>
<line x1="22.4" x2="325.6" y1="265.35" y2="265.35" class="gm"/>
<line x1="22.4" x2="325.6" y1="313.45" y2="313.45" class="gm"/>
<line x1="22.4" x2="325.6" y1="193.2" y2="193.2" class="gM"/>
<line x1="22.4" x2="325.6" y1="241.3" y2="241.3" class="gM"/>
<line x1="22.4" x2="325.6" y1="289.4" y2="289.4" class="gM"/>
<line x1="44.45" x2="44.45" y1="186.7" y2="333" class="gM"/>
<line x1="81.45" x2="81.45" y1="186.7" y2="333" class="gM"/>
<line x1="118.45" x2="118.45" y1="186.7" y2="333" class="gM"/>
<line x1="155.45" x2="155.45" y1="186.7" y2="333" class="gM"/>
<line x1="192.45" x2="192.45" y1="186.7" y2="333" class="gM"/>
<line x1="229.45" x2="229.45" y1="186.7" y2="333" class="gM"/>
<line x1="266.45" x2="266.45" y1="186.7" y2="333" class="gM"/>
<line x1="303.45" x2="303.45" y1="186.7" y2="333" class="gM"/>
<line x1="34.04" x2="34.04" y1="260.4" y2="305.5" class="ob"/>
<circle cx="34.04" cy="310.4" r="0.7" class="od"/>
<circle cx="34.04" cy="312.7" r="0.7" class="od"/>
<circle cx="34.04" cy="318.4" r="0.7" class="od"/>
<circle cx="34.04" cy="324.1" r="0.7" class="od"/>
<circle cx="34.04" cy="326.4" r="0.7" class="od"/>
<line x1="34.04" x2="34.04" y1="193.4" y2="205.3" class="wk"/>
<line x1="34.04" x2="34.04" y1="227.5" y2="260.4" class="wk"/>
<line x1="40.98" x2="40.98" y1="232" y2="268" class="ob"/>
<circle cx="40.98" cy="275" r="0.7" class="od"/>
<circle cx="40.98" cy="278.5" r="0.7" class="od"/>
<circle cx="40.98" cy="280.8" r="0.7" class="od"/>
<line x1="40.98" x2="40.98" y1="193.4" y2="197.9" class="wk"/>
<line x1="40.98" x2="40.98" y1="211.9" y2="232" class="wk"/>
<line x1="47.92" x2="47.92" y1="225" y2="256.8" class="ob"/>
<circle cx="47.92" cy="262.6" r="0.7" class="od"/>
<circle cx="47.92" cy="264.8" r="0.7" class="od"/>
<circle cx="47.92" cy="275" r="0.7" class="od"/>
<line x1="47.92" x2="47.92" y1="193.4" y2="196.2" class="wk"/>
<line x1="47.92" x2="47.92" y1="206.1" y2="225" class="wk"/>
<line x1="54.86" x2="54.86" y1="228" y2="259.6" class="ob"/>
<circle cx="54.86" cy="268.7" r="0.7" class="od"/>
<circle cx="54.86" cy="291" r="0.7" class="od"/>
<line x1="54.86" x2="54.86" y1="193.4" y2="197.9" class="wk"/>
<line x1="54.86" x2="54.86" y1="208.3" y2="228" class="wk"/>
<line x1="71.04" x2="71.04" y1="248" y2="277.7" class="ob"/>
<circle cx="71.04" cy="289" r="0.7" class="od"/>
<line x1="71.04" x2="71.04" y1="193.4" y2="209.4" class="wk"/>
<line x1="71.04" x2="71.04" y1="224.6" y2="248" class="wk"/>
<line x1="77.98" x2="77.98" y1="232" y2="250.5" class="ob"/>
<circle cx="77.98" cy="259.6" r="0.7" class="od"/>
<line x1="77.98" x2="77.98" y1="193.4" y2="200.4" class="wk"/>
<line x1="77.98" x2="77.98" y1="210.2" y2="232" class="wk"/>
<line x1="84.92" x2="84.92" y1="220" y2="233.2" class="ob"/>
<circle cx="84.92" cy="234.9" r="0.7" class="od"/>
<line x1="84.92" x2="84.92" y1="193.4" y2="198.2" class="wk"/>
<line x1="84.92" x2="84.92" y1="205.3" y2="220" class="wk"/>
<line x1="91.86" x2="91.86" y1="222" y2="239" class="ob"/>
<line x1="91.86" x2="91.86" y1="193.4" y2="199.5" class="wk"/>
<line x1="91.86" x2="91.86" y1="206.5" y2="222" class="wk"/>
<line x1="108.04" x2="108.04" y1="241.5" y2="265.4" class="ob"/>
<line x1="108.04" x2="108.04" y1="193.4" y2="211.1" class="wk"/>
<line x1="108.04" x2="108.04" y1="223.1" y2="241.5" class="wk"/>
<line x1="114.98" x2="114.98" y1="228" y2="241.5" class="ob"/>
<line x1="114.98" x2="114.98" y1="193.4" y2="201.7" class="wk"/>
<line x1="114.98" x2="114.98" y1="209.4" y2="228" class="wk"/>
<line x1="121.92" x2="121.92" y1="218" y2="227.5" class="ob"/>
<circle cx="121.92" cy="231.7" r="0.7" class="od"/>
<line x1="121.92" x2="121.92" y1="193.4" y2="199.2" class="wk"/>
<line x1="121.92" x2="121.92" y1="204.5" y2="218" class="wk"/>
<line x1="128.86" x2="128.86" y1="218" y2="226.7" class="ob"/>
<line x1="128.86" x2="128.86" y1="193.4" y2="200.4" class="wk"/>
<line x1="128.86" x2="128.86" y1="206.1" y2="218" class="wk"/>
<line x1="145.04" x2="145.04" y1="237.4" y2="256.4" class="ob"/>
<line x1="145.04" x2="145.04" y1="193.4" y2="211.9" class="wk"/>
<line x1="145.04" x2="145.04" y1="222.6" y2="237.4" class="wk"/>
<line x1="151.98" x2="151.98" y1="225" y2="234.1" class="ob"/>
<line x1="151.98" x2="151.98" y1="193.4" y2="202.5" class="wk"/>
<line x1="151.98" x2="151.98" y1="208.9" y2="225" class="wk"/>
<line x1="158.92" x2="158.92" y1="215" y2="221.8" class="ob"/>
<line x1="158.92" x2="158.92" y1="193.4" y2="199.5" class="wk"/>
<line x1="158.92" x2="158.92" y1="204.5" y2="215" class="wk"/>
<line x1="165.86" x2="165.86" y1="215" y2="220.6" class="ob"/>
<line x1="165.86" x2="165.86" y1="193.4" y2="200.9" class="wk"/>
<line x1="165.86" x2="165.86" y1="205.8" y2="215" class="wk"/>
<line x1="182.04" x2="182.04" y1="236" y2="251.8" class="ob"/>
<line x1="182.04" x2="182.04" y1="194.6" y2="211.9" class="wk"/>
<line x1="182.04" x2="182.04" y1="222" y2="236" class="wk"/>
<line x1="188.98" x2="188.98" y1="222" y2="230" class="ob"/>
<line x1="188.98" x2="188.98" y1="194.3" y2="202.5" class="wk"/>
<line x1="188.98" x2="188.98" y1="208.6" y2="222" class="wk"/>
<line x1="195.92" x2="195.92" y1="213" y2="217.7" class="ob"/>
<circle cx="195.92" cy="221" r="0.7" class="od"/>
<line x1="195.92" x2="195.92" y1="193.3" y2="199.9" class="wk"/>
<line x1="195.92" x2="195.92" y1="204.1" y2="213" class="wk"/>
<line x1="202.86" x2="202.86" y1="213" y2="217.3" class="ob"/>
<line x1="202.86" x2="202.86" y1="193.8" y2="201.2" class="wk"/>
<line x1="202.86" x2="202.86" y1="205.6" y2="213" class="wk"/>
<line x1="219.04" x2="219.04" y1="235" y2="248.7" class="ob"/>
<line x1="219.04" x2="219.04" y1="197.1" y2="212.9" class="wk"/>
<line x1="219.04" x2="219.04" y1="221.8" y2="235" class="wk"/>
<line x1="225.98" x2="225.98" y1="220" y2="227.5" class="ob"/>
<line x1="225.98" x2="225.98" y1="194.3" y2="202.8" class="wk"/>
<line x1="225.98" x2="225.98" y1="208.3" y2="220" class="wk"/>
<line x1="232.92" x2="232.92" y1="212" y2="218.5" class="ob"/>
<line x1="232.92" x2="232.92" y1="193.3" y2="200" class="wk"/>
<line x1="232.92" x2="232.92" y1="204" y2="212" class="wk"/>
<line x1="239.86" x2="239.86" y1="211" y2="213.5" class="ob"/>
<line x1="239.86" x2="239.86" y1="194.6" y2="201.5" class="wk"/>
<line x1="239.86" x2="239.86" y1="205.3" y2="211" class="wk"/>
<line x1="256.04" x2="256.04" y1="234" y2="246.5" class="ob"/>
<line x1="256.04" x2="256.04" y1="197.1" y2="213.2" class="wk"/>
<line x1="256.04" x2="256.04" y1="221.4" y2="234" class="wk"/>
<line x1="262.98" x2="262.98" y1="218" y2="223.4" class="ob"/>
<line x1="262.98" x2="262.98" y1="194.3" y2="203.2" class="wk"/>
<line x1="262.98" x2="262.98" y1="208.1" y2="218" class="wk"/>
<line x1="269.92" x2="269.92" y1="211" y2="215.2" class="ob"/>
<line x1="269.92" x2="269.92" y1="194.3" y2="200.4" class="wk"/>
<line x1="269.92" x2="269.92" y1="204" y2="211" class="wk"/>
<line x1="276.86" x2="276.86" y1="210" y2="212.7" class="ob"/>
<line x1="276.86" x2="276.86" y1="194.9" y2="202" class="wk"/>
<line x1="276.86" x2="276.86" y1="204.8" y2="210" class="wk"/>
<line x1="293.04" x2="293.04" y1="233" y2="243.5" class="ob"/>
<line x1="293.04" x2="293.04" y1="198.2" y2="213.5" class="wk"/>
<line x1="293.04" x2="293.04" y1="221" y2="233" class="wk"/>
<line x1="299.98" x2="299.98" y1="216" y2="221.8" class="ob"/>
<line x1="299.98" x2="299.98" y1="195.4" y2="203.3" class="wk"/>
<line x1="299.98" x2="299.98" y1="207.8" y2="216" class="wk"/>
<line x1="306.92" x2="306.92" y1="210" y2="213.5" class="ob"/>
<line x1="306.92" x2="306.92" y1="194.9" y2="200.7" class="wk"/>
<line x1="306.92" x2="306.92" y1="204" y2="210" class="wk"/>
<line x1="313.86" x2="313.86" y1="209" y2="209.4" class="ob"/>
<line x1="313.86" x2="313.86" y1="195.4" y2="202" class="wk"/>
<line x1="313.86" x2="313.86" y1="204.8" y2="209" class="wk"/>
<rect x="30.57" y="205.3" width="6.94" height="22.2" fill="#FF9A00" class="bx"/>
<line x1="30.57" x2="37.51" y1="215.5" y2="215.5" class="md"/>
<rect x="37.51" y="197.9" width="6.94" height="14" fill="#33FF00" class="bx"/>
<line x1="37.51" x2="44.45" y1="204" y2="204" class="md"/>
<rect x="44.45" y="196.2" width="6.94" height="9.9" fill="#0066FF" class="bx"/>
<line x1="44.45" x2="51.39" y1="200.4" y2="200.4" class="md"/>
<rect x="51.39" y="197.9" width="6.94" height="10.4" fill="#FF0099" class="bx"/>
<line x1="51.39" x2="58.33" y1="202" y2="202" class="md"/>
<rect x="67.57" y="209.4" width="6.94" height="15.2" fill="#FF9A00" class="bx"/>
<line x1="67.57" x2="74.51" y1="216.3" y2="216.3" class="md"/>
<rect x="74.51" y="200.4" width="6.94" height="9.8" fill="#33FF00" class="bx"/>
<line x1="74.51" x2="81.45" y1="204.5" y2="204.5" class="md"/>
<rect x="81.45" y="198.2" width="6.94" height="7.1" fill="#0066FF" class="bx"/>
<line x1="81.45" x2="88.39" y1="200.9" y2="200.9" class="md"/>
<rect x="88.39" y="199.5" width="6.94" height="7" fill="#FF0099" class="bx"/>
<line x1="88.39" x2="95.33" y1="202.5" y2="202.5" class="md"/>
<rect x="104.57" y="211.1" width="6.94" height="12" fill="#FF9A00" class="bx"/>
<line x1="104.57" x2="111.51" y1="216.3" y2="216.3" class="md"/>
<rect x="111.51" y="201.7" width="6.94" height="7.7" fill="#33FF00" class="bx"/>
<line x1="111.51" x2="118.45" y1="205.3" y2="205.3" class="md"/>
<rect x="118.45" y="199.2" width="6.94" height="5.3" fill="#0066FF" class="bx"/>
<line x1="118.45" x2="125.39" y1="202" y2="202" class="md"/>
<rect x="125.39" y="200.4" width="6.94" height="5.7" fill="#FF0099" class="bx"/>
<line x1="125.39" x2="132.33" y1="203.2" y2="203.2" class="md"/>
<rect x="141.57" y="211.9" width="6.94" height="10.7" fill="#FF9A00" class="bx"/>
<line x1="141.57" x2="148.51" y1="216.8" y2="216.8" class="md"/>
<rect x="148.51" y="202.5" width="6.94" height="6.4" fill="#33FF00" class="bx"/>
<line x1="148.51" x2="155.45" y1="205.3" y2="205.3" class="md"/>
<rect x="155.45" y="199.5" width="6.94" height="5" fill="#0066FF" class="bx"/>
<line x1="155.45" x2="162.39" y1="202" y2="202" class="md"/>
<rect x="162.39" y="200.9" width="6.94" height="4.9" fill="#FF0099" class="bx"/>
<line x1="162.39" x2="169.33" y1="203.3" y2="203.3" class="md"/>
<rect x="178.57" y="211.9" width="6.94" height="10.1" fill="#FF9A00" class="bx"/>
<line x1="178.57" x2="185.51" y1="216.9" y2="216.9" class="md"/>
<rect x="185.51" y="202.5" width="6.94" height="6.1" fill="#33FF00" class="bx"/>
<line x1="185.51" x2="192.45" y1="205.3" y2="205.3" class="md"/>
<rect x="192.45" y="199.9" width="6.94" height="4.2" fill="#0066FF" class="bx"/>
<line x1="192.45" x2="199.39" y1="202" y2="202" class="md"/>
<rect x="199.39" y="201.2" width="6.94" height="4.4" fill="#FF0099" class="bx"/>
<line x1="199.39" x2="206.33" y1="203.3" y2="203.3" class="md"/>
<rect x="215.57" y="212.9" width="6.94" height="8.9" fill="#FF9A00" class="bx"/>
<line x1="215.57" x2="222.51" y1="217.1" y2="217.1" class="md"/>
<rect x="222.51" y="202.8" width="6.94" height="5.5" fill="#33FF00" class="bx"/>
<line x1="222.51" x2="229.45" y1="205.6" y2="205.6" class="md"/>
<rect x="229.45" y="200" width="6.94" height="4" fill="#0066FF" class="bx"/>
<line x1="229.45" x2="236.39" y1="202" y2="202" class="md"/>
<rect x="236.39" y="201.5" width="6.94" height="3.8" fill="#FF0099" class="bx"/>
<line x1="236.39" x2="243.33" y1="203.3" y2="203.3" class="md"/>
<rect x="252.57" y="213.2" width="6.94" height="8.2" fill="#FF9A00" class="bx"/>
<line x1="252.57" x2="259.51" y1="217.2" y2="217.2" class="md"/>
<rect x="259.51" y="203.2" width="6.94" height="4.9" fill="#33FF00" class="bx"/>
<line x1="259.51" x2="266.45" y1="205.6" y2="205.6" class="md"/>
<rect x="266.45" y="200.4" width="6.94" height="3.6" fill="#0066FF" class="bx"/>
<line x1="266.45" x2="273.39" y1="202" y2="202" class="md"/>
<rect x="273.39" y="202" width="6.94" height="2.8" fill="#FF0099" class="bx"/>
<line x1="273.39" x2="280.33" y1="203.3" y2="203.3" class="md"/>
<rect x="289.57" y="213.5" width="6.94" height="7.5" fill="#FF9A00" class="bx"/>
<line x1="289.57" x2="296.51" y1="217.2" y2="217.2" class="md"/>
<rect x="296.51" y="203.3" width="6.94" height="4.5" fill="#33FF00" class="bx"/>
<line x1="296.51" x2="303.45" y1="205.6" y2="205.6" class="md"/>
<rect x="303.45" y="200.7" width="6.94" height="3.3" fill="#0066FF" class="bx"/>
<line x1="303.45" x2="310.39" y1="202" y2="202" class="md"/>
<rect x="310.39" y="202" width="6.94" height="2.8" fill="#FF0099" class="bx"/>
<line x1="310.39" x2="317.33" y1="203.3" y2="203.3" class="md"/>
<rect x="22.4" y="186.7" width="303.2" height="146.3" class="pb"/>
<line x1="20.4" x2="22.4" y1="193.2" y2="193.2" class="tk"/>
<text x="19.1" y="195.15" class="tl" text-anchor="end">100</text>
<line x1="20.4" x2="22.4" y1="241.3" y2="241.3" class="tk"/>
<text x="19.1" y="243.25" class="tl" text-anchor="end">80</text>
<line x1="20.4" x2="22.4" y1="289.4" y2="289.4" class="tk"/>
<text x="19.1" y="291.35" class="tl" text-anchor="end">60</text>
<line x1="44.45" x2="44.45" y1="333" y2="335" class="tk"/>
<text x="44.45" y="340.8" class="tl" text-anchor="middle">20</text>
<line x1="81.45" x2="81.45" y1="333" y2="335" class="tk"/>
<text x="81.45" y="340.8" class="tl" text-anchor="middle">40</text>
<line x1="118.45" x2="118.45" y1="333" y2="335" class="tk"/>
<text x="118.45" y="340.8" class="tl" text-anchor="middle">60</text>
<line x1="155.45" x2="155.45" y1="333" y2="335" class="tk"/>
<text x="155.45" y="340.8" class="tl" text-anchor="middle">80</text>
<line x1="192.45" x2="192.45" y1="333" y2="335" class="tk"/>
<text x="192.45" y="340.8" class="tl" text-anchor="middle">100</text>
<line x1="229.45" x2="229.45" y1="333" y2="335" class="tk"/>
<text x="229.45" y="340.8" class="tl" text-anchor="middle">120</text>
<line x1="266.45" x2="266.45" y1="333" y2="335" class="tk"/>
<text x="266.45" y="340.8" class="tl" text-anchor="middle">140</text>
<line x1="303.45" x2="303.45" y1="333" y2="335" class="tk"/>
<text x="303.45" y="340.8" class="tl" text-anchor="middle">160</text>
<text x="174" y="347.6" class="at" text-anchor="middle">Sample size</text>
<text transform="translate(6.7 259.85) rotate(-90)" class="at" text-anchor="middle">Specificity (%)</text>
<line x1="353.3" x2="657.6" y1="209.7" y2="209.7" class="gm"/>
<line x1="353.3" x2="657.6" y1="257.3" y2="257.3" class="gm"/>
<line x1="353.3" x2="657.6" y1="304.9" y2="304.9" class="gm"/>
<line x1="353.3" x2="657.6" y1="233.5" y2="233.5" class="gM"/>
<line x1="353.3" x2="657.6" y1="281.1" y2="281.1" class="gM"/>
<line x1="353.3" x2="657.6" y1="328.6" y2="328.6" class="gM"/>
<line x1="375.6" x2="375.6" y1="186.7" y2="333" class="gM"/>
<line x1="412.7" x2="412.7" y1="186.7" y2="333" class="gM"/>
<line x1="449.8" x2="449.8" y1="186.7" y2="333" class="gM"/>
<line x1="486.9" x2="486.9" y1="186.7" y2="333" class="gM"/>
<line x1="524" x2="524" y1="186.7" y2="333" class="gM"/>
<line x1="561.1" x2="561.1" y1="186.7" y2="333" class="gM"/>
<line x1="598.2" x2="598.2" y1="186.7" y2="333" class="gM"/>
<line x1="635.3" x2="635.3" y1="186.7" y2="333" class="gM"/>
<line x1="365.19" x2="365.19" y1="207.8" y2="239.8" class="ob"/>
<line x1="365.19" x2="365.19" y1="306.7" y2="326.7" class="ob"/>
<circle cx="365.19" cy="192.9" r="0.7" class="od"/>
<line x1="365.19" x2="365.19" y1="239.8" y2="264.5" class="wk"/>
<line x1="365.19" x2="365.19" y1="281.3" y2="306.7" class="wk"/>
<line x1="372.13" x2="372.13" y1="237" y2="257.2" class="ob"/>
<line x1="372.13" x2="372.13" y1="306.7" y2="327.2" class="ob"/>
<circle cx="372.13" cy="233.8" r="0.7" class="od"/>
<line x1="372.13" x2="372.13" y1="257.2" y2="275.5" class="wk"/>
<line x1="372.13" x2="372.13" y1="287.9" y2="306.7" class="wk"/>
<line x1="379.07" x2="379.07" y1="244.3" y2="262" class="ob"/>
<line x1="379.07" x2="379.07" y1="312.6" y2="325.7" class="ob"/>
<line x1="379.07" x2="379.07" y1="262" y2="279.3" class="wk"/>
<line x1="379.07" x2="379.07" y1="290" y2="312.6" class="wk"/>
<line x1="386.01" x2="386.01" y1="248.3" y2="262" class="ob"/>
<line x1="386.01" x2="386.01" y1="300.8" y2="314.9" class="ob"/>
<line x1="386.01" x2="386.01" y1="262" y2="276.9" class="wk"/>
<line x1="386.01" x2="386.01" y1="286.2" y2="300.8" class="wk"/>
<line x1="402.29" x2="402.29" y1="229.1" y2="248.3" class="ob"/>
<line x1="402.29" x2="402.29" y1="296" y2="306.7" class="ob"/>
<line x1="402.29" x2="402.29" y1="248.3" y2="266.5" class="wk"/>
<line x1="402.29" x2="402.29" y1="278.3" y2="296" class="wk"/>
<line x1="409.23" x2="409.23" y1="248.3" y2="262" class="ob"/>
<line x1="409.23" x2="409.23" y1="300" y2="309.7" class="ob"/>
<line x1="409.23" x2="409.23" y1="262" y2="277.2" class="wk"/>
<line x1="409.23" x2="409.23" y1="286.2" y2="300" class="wk"/>
<line x1="416.17" x2="416.17" y1="257.2" y2="265" class="ob"/>
<line x1="416.17" x2="416.17" y1="302" y2="311.2" class="ob"/>
<circle cx="416.17" cy="314.4" r="0.7" class="od"/>
<line x1="416.17" x2="416.17" y1="265" y2="281.3" class="wk"/>
<line x1="416.17" x2="416.17" y1="288.4" y2="302" class="wk"/>
<line x1="423.11" x2="423.11" y1="262" y2="266" class="ob"/>
<line x1="423.11" x2="423.11" y1="296" y2="300.8" class="ob"/>
<line x1="423.11" x2="423.11" y1="266" y2="278.3" class="wk"/>
<line x1="423.11" x2="423.11" y1="284.6" y2="296" class="wk"/>
<line x1="439.39" x2="439.39" y1="238.7" y2="253.3" class="ob"/>
<line x1="439.39" x2="439.39" y1="295" y2="301.1" class="ob"/>
<circle cx="439.39" cy="230.1" r="0.7" class="od"/>
<line x1="439.39" x2="439.39" y1="253.3" y2="267.8" class="wk"/>
<line x1="439.39" x2="439.39" y1="277.7" y2="295" class="wk"/>
<line x1="446.33" x2="446.33" y1="254.4" y2="262" class="ob"/>
<line x1="446.33" x2="446.33" y1="300" y2="304.4" class="ob"/>
<line x1="446.33" x2="446.33" y1="262" y2="278.3" class="wk"/>
<line x1="446.33" x2="446.33" y1="285.4" y2="300" class="wk"/>
<line x1="453.27" x2="453.27" y1="262.3" y2="266" class="ob"/>
<line x1="453.27" x2="453.27" y1="302" y2="306.8" class="ob"/>
<line x1="453.27" x2="453.27" y1="266" y2="281.8" class="wk"/>
<line x1="453.27" x2="453.27" y1="287.9" y2="302" class="wk"/>
<line x1="460.21" x2="460.21" y1="265" y2="267" class="ob"/>
<line x1="460.21" x2="460.21" y1="294" y2="296.1" class="ob"/>
<line x1="460.21" x2="460.21" y1="267" y2="279.2" class="wk"/>
<line x1="460.21" x2="460.21" y1="284.1" y2="294" class="wk"/>
<line x1="476.49" x2="476.49" y1="240.3" y2="255.6" class="ob"/>
<line x1="476.49" x2="476.49" y1="294" y2="300.2" class="ob"/>
<line x1="476.49" x2="476.49" y1="255.6" y2="268.1" class="wk"/>
<line x1="476.49" x2="476.49" y1="277.2" y2="294" class="wk"/>
<line x1="483.43" x2="483.43" y1="259.6" y2="264" class="ob"/>
<line x1="483.43" x2="483.43" y1="298" y2="303.5" class="ob"/>
<line x1="483.43" x2="483.43" y1="264" y2="278.5" class="wk"/>
<line x1="483.43" x2="483.43" y1="285.1" y2="298" class="wk"/>
<line x1="490.37" x2="490.37" y1="266.5" y2="268" class="ob"/>
<line x1="490.37" x2="490.37" y1="300" y2="303.5" class="ob"/>
<line x1="490.37" x2="490.37" y1="268" y2="282.1" class="wk"/>
<line x1="490.37" x2="490.37" y1="287.6" y2="300" class="wk"/>
<line x1="497.31" x2="497.31" y1="269" y2="270" class="ob"/>
<line x1="497.31" x2="497.31" y1="292" y2="294.5" class="ob"/>
<line x1="497.31" x2="497.31" y1="270" y2="279.3" class="wk"/>
<line x1="497.31" x2="497.31" y1="283.4" y2="292" class="wk"/>
<line x1="513.59" x2="513.59" y1="247.3" y2="257.7" class="ob"/>
<line x1="513.59" x2="513.59" y1="290" y2="294.8" class="ob"/>
<line x1="513.59" x2="513.59" y1="257.7" y2="268.5" class="wk"/>
<line x1="513.59" x2="513.59" y1="276.9" y2="290" class="wk"/>
<line x1="520.53" x2="520.53" y1="261.2" y2="264" class="ob"/>
<line x1="520.53" x2="520.53" y1="296" y2="299.6" class="ob"/>
<line x1="520.53" x2="520.53" y1="264" y2="278.5" class="wk"/>
<line x1="520.53" x2="520.53" y1="284.8" y2="296" class="wk"/>
<line x1="527.47" x2="527.47" y1="268.8" y2="270" class="ob"/>
<line x1="527.47" x2="527.47" y1="298" y2="300.6" class="ob"/>
<line x1="527.47" x2="527.47" y1="270" y2="282.3" class="wk"/>
<line x1="527.47" x2="527.47" y1="287.5" y2="298" class="wk"/>
<line x1="534.41" x2="534.41" y1="270.4" y2="271" class="ob"/>
<line x1="534.41" x2="534.41" y1="290" y2="291.5" class="ob"/>
<line x1="534.41" x2="534.41" y1="271" y2="279.8" class="wk"/>
<line x1="534.41" x2="534.41" y1="283.7" y2="290" class="wk"/>
<line x1="550.69" x2="550.69" y1="248.1" y2="258" class="ob"/>
<line x1="550.69" x2="550.69" y1="290" y2="294.8" class="ob"/>
<line x1="550.69" x2="550.69" y1="258" y2="268.8" class="wk"/>
<line x1="550.69" x2="550.69" y1="276.5" y2="290" class="wk"/>
<line x1="557.63" x2="557.63" y1="263.1" y2="265" class="ob"/>
<line x1="557.63" x2="557.63" y1="295" y2="298.7" class="ob"/>
<line x1="557.63" x2="557.63" y1="265" y2="278.8" class="wk"/>
<line x1="557.63" x2="557.63" y1="284.6" y2="295" class="wk"/>
<line x1="564.57" x2="564.57" y1="269.8" y2="271" class="ob"/>
<line x1="564.57" x2="564.57" y1="296" y2="297.7" class="ob"/>
<line x1="564.57" x2="564.57" y1="271" y2="282.3" class="wk"/>
<line x1="564.57" x2="564.57" y1="287.5" y2="296" class="wk"/>
<line x1="571.51" x2="571.51" y1="290" y2="291" class="ob"/>
<line x1="571.51" x2="571.51" y1="272" y2="279.8" class="wk"/>
<line x1="571.51" x2="571.51" y1="283.3" y2="290" class="wk"/>
<line x1="587.79" x2="587.79" y1="250.6" y2="259" class="ob"/>
<line x1="587.79" x2="587.79" y1="290" y2="294.8" class="ob"/>
<circle cx="587.79" cy="248.7" r="0.7" class="od"/>
<line x1="587.79" x2="587.79" y1="259" y2="269.2" class="wk"/>
<line x1="587.79" x2="587.79" y1="276.2" y2="290" class="wk"/>
<line x1="594.73" x2="594.73" y1="265" y2="266" class="ob"/>
<line x1="594.73" x2="594.73" y1="294" y2="296.2" class="ob"/>
<line x1="594.73" x2="594.73" y1="266" y2="279.4" class="wk"/>
<line x1="594.73" x2="594.73" y1="284.2" y2="294" class="wk"/>
<line x1="601.67" x2="601.67" y1="269.8" y2="271" class="ob"/>
<line x1="601.67" x2="601.67" y1="295" y2="297.1" class="ob"/>
<line x1="601.67" x2="601.67" y1="271" y2="282.7" class="wk"/>
<line x1="601.67" x2="601.67" y1="287.1" y2="295" class="wk"/>
<line x1="608.61" x2="608.61" y1="288" y2="289" class="ob"/>
<line x1="608.61" x2="608.61" y1="273" y2="280" class="wk"/>
<line x1="608.61" x2="608.61" y1="282.9" y2="288" class="wk"/>
<line x1="624.89" x2="624.89" y1="251.9" y2="259" class="ob"/>
<line x1="624.89" x2="624.89" y1="289" y2="291" class="ob"/>
<line x1="624.89" x2="624.89" y1="259" y2="269.2" class="wk"/>
<line x1="624.89" x2="624.89" y1="276" y2="289" class="wk"/>
<line x1="631.83" x2="631.83" y1="295" y2="297.7" class="ob"/>
<line x1="631.83" x2="631.83" y1="267" y2="279.4" class="wk"/>
<line x1="631.83" x2="631.83" y1="284.2" y2="295" class="wk"/>
<line x1="638.77" x2="638.77" y1="295" y2="297.3" class="ob"/>
<line x1="638.77" x2="638.77" y1="273" y2="282.7" class="wk"/>
<line x1="638.77" x2="638.77" y1="286.7" y2="295" class="wk"/>
<line x1="645.71" x2="645.71" y1="287" y2="288.1" class="ob"/>
<line x1="645.71" x2="645.71" y1="275" y2="280" class="wk"/>
<line x1="645.71" x2="645.71" y1="282.7" y2="287" class="wk"/>
<rect x="361.72" y="264.5" width="6.94" height="16.8" fill="#FF9A00" class="bx"/>
<line x1="361.72" x2="368.66" y1="273.6" y2="273.6" class="md"/>
<rect x="368.66" y="275.5" width="6.94" height="12.4" fill="#33FF00" class="bx"/>
<line x1="368.66" x2="375.6" y1="281" y2="281" class="md"/>
<rect x="375.6" y="279.3" width="6.94" height="10.7" fill="#0066FF" class="bx"/>
<line x1="375.6" x2="382.54" y1="283.8" y2="283.8" class="md"/>
<rect x="382.54" y="276.9" width="6.94" height="9.3" fill="#FF0099" class="bx"/>
<line x1="382.54" x2="389.48" y1="281" y2="281" class="md"/>
<rect x="398.82" y="266.5" width="6.94" height="11.8" fill="#FF9A00" class="bx"/>
<line x1="398.82" x2="405.76" y1="272.6" y2="272.6" class="md"/>
<rect x="405.76" y="277.2" width="6.94" height="9" fill="#33FF00" class="bx"/>
<line x1="405.76" x2="412.7" y1="281.6" y2="281.6" class="md"/>
<rect x="412.7" y="281.3" width="6.94" height="7.1" fill="#0066FF" class="bx"/>
<line x1="412.7" x2="419.64" y1="284.6" y2="284.6" class="md"/>
<rect x="419.64" y="278.3" width="6.94" height="6.3" fill="#FF0099" class="bx"/>
<line x1="419.64" x2="426.58" y1="281.3" y2="281.3" class="md"/>
<rect x="435.92" y="267.8" width="6.94" height="9.9" fill="#FF9A00" class="bx"/>
<line x1="435.92" x2="442.86" y1="272.6" y2="272.6" class="md"/>
<rect x="442.86" y="278.3" width="6.94" height="7.1" fill="#33FF00" class="bx"/>
<line x1="442.86" x2="449.8" y1="281.6" y2="281.6" class="md"/>
<rect x="449.8" y="281.8" width="6.94" height="6.1" fill="#0066FF" class="bx"/>
<line x1="449.8" x2="456.74" y1="284.6" y2="284.6" class="md"/>
<rect x="456.74" y="279.2" width="6.94" height="4.9" fill="#FF0099" class="bx"/>
<line x1="456.74" x2="463.68" y1="281.3" y2="281.3" class="md"/>
<rect x="473.02" y="268.1" width="6.94" height="9.1" fill="#FF9A00" class="bx"/>
<line x1="473.02" x2="479.96" y1="272.2" y2="272.2" class="md"/>
<rect x="479.96" y="278.5" width="6.94" height="6.6" fill="#33FF00" class="bx"/>
<line x1="479.96" x2="486.9" y1="281.3" y2="281.3" class="md"/>
<rect x="486.9" y="282.1" width="6.94" height="5.5" fill="#0066FF" class="bx"/>
<line x1="486.9" x2="493.84" y1="284.6" y2="284.6" class="md"/>
<rect x="493.84" y="279.3" width="6.94" height="4.1" fill="#FF0099" class="bx"/>
<line x1="493.84" x2="500.78" y1="281.3" y2="281.3" class="md"/>
<rect x="510.12" y="268.5" width="6.94" height="8.4" fill="#FF9A00" class="bx"/>
<line x1="510.12" x2="517.06" y1="272.7" y2="272.7" class="md"/>
<rect x="517.06" y="278.5" width="6.94" height="6.3" fill="#33FF00" class="bx"/>
<line x1="517.06" x2="524" y1="281.3" y2="281.3" class="md"/>
<rect x="524" y="282.3" width="6.94" height="5.2" fill="#0066FF" class="bx"/>
<line x1="524" x2="530.94" y1="284.6" y2="284.6" class="md"/>
<rect x="530.94" y="279.8" width="6.94" height="3.9" fill="#FF0099" class="bx"/>
<line x1="530.94" x2="537.88" y1="281.3" y2="281.3" class="md"/>
<rect x="547.22" y="268.8" width="6.94" height="7.7" fill="#FF9A00" class="bx"/>
<line x1="547.22" x2="554.16" y1="272.7" y2="272.7" class="md"/>
<rect x="554.16" y="278.8" width="6.94" height="5.8" fill="#33FF00" class="bx"/>
<line x1="554.16" x2="561.1" y1="281.3" y2="281.3" class="md"/>
<rect x="561.1" y="282.3" width="6.94" height="5.2" fill="#0066FF" class="bx"/>
<line x1="561.1" x2="568.04" y1="284.6" y2="284.6" class="md"/>
<rect x="568.04" y="279.8" width="6.94" height="3.5" fill="#FF0099" class="bx"/>
<line x1="568.04" x2="574.98" y1="281.3" y2="281.3" class="md"/>
<rect x="584.32" y="269.2" width="6.94" height="7" fill="#FF9A00" class="bx"/>
<line x1="584.32" x2="591.26" y1="272.7" y2="272.7" class="md"/>
<rect x="591.26" y="279.4" width="6.94" height="4.8" fill="#33FF00" class="bx"/>
<line x1="591.26" x2="598.2" y1="281.3" y2="281.3" class="md"/>
<rect x="598.2" y="282.7" width="6.94" height="4.4" fill="#0066FF" class="bx"/>
<line x1="598.2" x2="605.14" y1="284.6" y2="284.6" class="md"/>
<rect x="605.14" y="280" width="6.94" height="2.9" fill="#FF0099" class="bx"/>
<line x1="605.14" x2="612.08" y1="281.3" y2="281.3" class="md"/>
<rect x="621.42" y="269.2" width="6.94" height="6.8" fill="#FF9A00" class="bx"/>
<line x1="621.42" x2="628.36" y1="272.7" y2="272.7" class="md"/>
<rect x="628.36" y="279.4" width="6.94" height="4.8" fill="#33FF00" class="bx"/>
<line x1="628.36" x2="635.3" y1="281.3" y2="281.3" class="md"/>
<rect x="635.3" y="282.7" width="6.94" height="4" fill="#0066FF" class="bx"/>
<line x1="635.3" x2="642.24" y1="284.6" y2="284.6" class="md"/>
<rect x="642.24" y="280" width="6.94" height="2.7" fill="#FF0099" class="bx"/>
<line x1="642.24" x2="649.18" y1="281.3" y2="281.3" class="md"/>
<rect x="353.3" y="186.7" width="304.3" height="146.3" class="pb"/>
<line x1="351.3" x2="353.3" y1="233.5" y2="233.5" class="tk"/>
<text x="350" y="235.45" class="tl" text-anchor="end">20</text>
<line x1="351.3" x2="353.3" y1="281.1" y2="281.1" class="tk"/>
<text x="350" y="283.05" class="tl" text-anchor="end">0</text>
<line x1="351.3" x2="353.3" y1="328.6" y2="328.6" class="tk"/>
<text x="350" y="330.55" class="tl" text-anchor="end">-20</text>
<line x1="375.6" x2="375.6" y1="333" y2="335" class="tk"/>
<text x="375.6" y="340.8" class="tl" text-anchor="middle">20</text>
<line x1="412.7" x2="412.7" y1="333" y2="335" class="tk"/>
<text x="412.7" y="340.8" class="tl" text-anchor="middle">40</text>
<line x1="449.8" x2="449.8" y1="333" y2="335" class="tk"/>
<text x="449.8" y="340.8" class="tl" text-anchor="middle">60</text>
<line x1="486.9" x2="486.9" y1="333" y2="335" class="tk"/>
<text x="486.9" y="340.8" class="tl" text-anchor="middle">80</text>
<line x1="524" x2="524" y1="333" y2="335" class="tk"/>
<text x="524" y="340.8" class="tl" text-anchor="middle">100</text>
<line x1="561.1" x2="561.1" y1="333" y2="335" class="tk"/>
<text x="561.1" y="340.8" class="tl" text-anchor="middle">120</text>
<line x1="598.2" x2="598.2" y1="333" y2="335" class="tk"/>
<text x="598.2" y="340.8" class="tl" text-anchor="middle">140</text>
<line x1="635.3" x2="635.3" y1="333" y2="335" class="tk"/>
<text x="635.3" y="340.8" class="tl" text-anchor="middle">160</text>
<text x="505.45" y="347.6" class="at" text-anchor="middle">Sample size</text>
<text transform="translate(338.6 260.55) rotate(-90)" class="at" text-anchor="middle">Difference between Obs. and Est. (%)</text>
<text x="329.4" y="7.8" class="tt" text-anchor="middle">Mortality (&gt;80%) &amp; Knock Down (&gt;95%)</text>
<text x="261.0" y="357.2" class="lt">Number of cones</text>
<rect x="319.1" y="348.3" width="13" height="13" class="kb"/>
<line x1="325.6" x2="325.6" y1="348.8" y2="360.8" class="kw"/>
<rect x="320.1" y="351.2" width="11" height="7.2" fill="#FF9A00" class="bx"/>
<line x1="320.1" x2="331.1" y1="354.8" y2="354.8" class="md" style="stroke-width:0.9;stroke-opacity:0.65"/>
<text x="334.1" y="357.2" class="ll">1</text>
<rect x="339.2" y="348.3" width="13" height="13" class="kb"/>
<line x1="345.7" x2="345.7" y1="348.8" y2="360.8" class="kw"/>
<rect x="340.2" y="351.2" width="11" height="7.2" fill="#33FF00" class="bx"/>
<line x1="340.2" x2="351.2" y1="354.8" y2="354.8" class="md" style="stroke-width:0.9;stroke-opacity:0.65"/>
<text x="354.2" y="357.2" class="ll">2</text>
<rect x="359.3" y="348.3" width="13" height="13" class="kb"/>
<line x1="365.8" x2="365.8" y1="348.8" y2="360.8" class="kw"/>
<rect x="360.3" y="351.2" width="11" height="7.2" fill="#0066FF" class="bx"/>
<line x1="360.3" x2="371.3" y1="354.8" y2="354.8" class="md" style="stroke-width:0.9;stroke-opacity:0.65"/>
<text x="374.3" y="357.2" class="ll">3</text>
<rect x="379.4" y="348.3" width="13" height="13" class="kb"/>
<line x1="385.9" x2="385.9" y1="348.8" y2="360.8" class="kw"/>
<rect x="380.4" y="351.2" width="11" height="7.2" fill="#FF0099" class="bx"/>
<line x1="380.4" x2="391.4" y1="354.8" y2="354.8" class="md" style="stroke-width:0.9;stroke-opacity:0.65"/>
<text x="394.4" y="357.2" class="ll">4</text>
</svg></body></html>
